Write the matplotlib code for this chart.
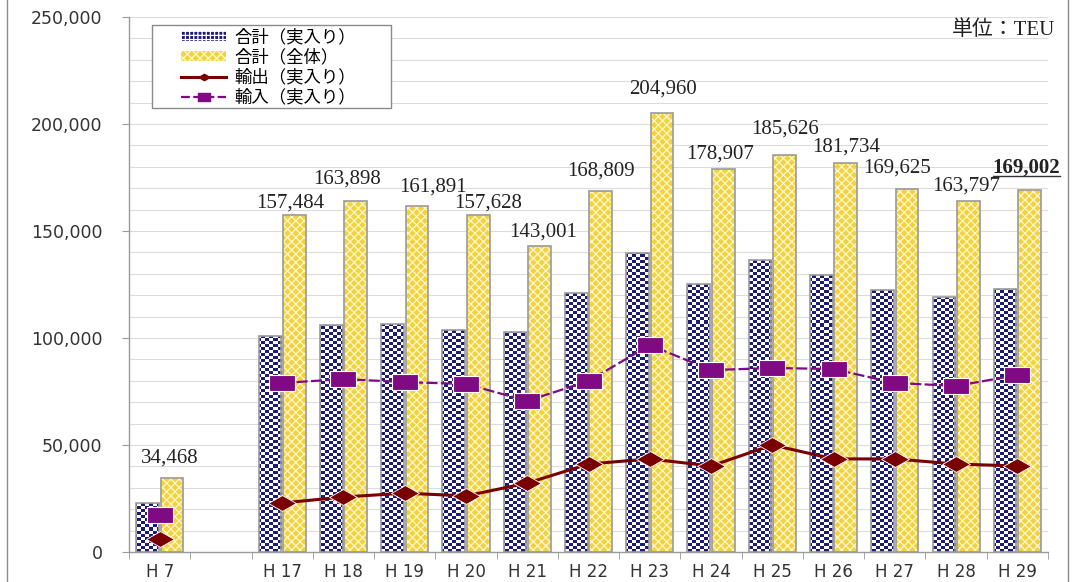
import numpy as np
import matplotlib.pyplot as plt
from matplotlib.patches import Patch, Rectangle
from matplotlib.lines import Line2D
from matplotlib.path import Path
from matplotlib.colors import ListedColormap
from matplotlib.transforms import IdentityTransform

# fiscal years (an empty slot separates H7 from H17)
years = ["H 7", "", "H 17", "H 18", "H 19", "H 20", "H 21", "H 22",
         "H 23", "H 24", "H 25", "H 26", "H 27", "H 28", "H 29"]

nan = np.nan
total_laden = [22900, nan, 101000, 106000, 106500, 103700, 102800, 121000,
               139700, 125200, 136400, 129400, 122400, 119200, 122900]
total_all = [34468, nan, 157484, 163898, 161891, 157628, 143001, 168809,
             204960, 178907, 185626, 181734, 169625, 163797, 169002]
export_laden = [6000, nan, 22900, 25700, 27500, 26200, 32200, 41100,
                43500, 40200, 50000, 43500, 43500, 41100, 40200]
import_laden = [17300, nan, 79000, 80800, 79400, 78500, 70600, 79900,
                96700, 85000, 86000, 85500, 79000, 77600, 82700]

series_names = ["合計（実入り）", "合計（全体）", "輸出（実入り）", "輸入（実入り）"]

# nudges (pixels) for the value labels above the yellow bars
label_dx = [-2, 0, -4, -9, 16, 10, 4, 0, 1, -3, 0, 0, -10, -2, -3]
label_dy = [20, 0, 12, 22, 19, 12, 14, 20, 24, 15, 26, 16, 21, 15, 23]

NAVY = "#1c1c74"
GOLD = "#f1d23f"
MAROON = "#7a0000"
PURPLE = "#7f0a84"
EDGE = "#9a9a9a"

plt.rcParams["hatch.linewidth"] = 0.9

W, H = 1075, 582
fig = plt.figure(figsize=(W / 100, H / 100), dpi=100)
ax = fig.add_axes([129 / W, 1 - 552 / H, (1048 - 129) / W, (552 - 17) / H])

x = np.arange(len(years))
w = 0.37
off = 0.2

# blue bars: grey outline, filled with a small navy/white checkerboard
laden_bars = ax.bar(x - off, total_laden, w, facecolor="none", edgecolor=EDGE, linewidth=1.2, zorder=3)
checker = np.indices((178, 230)).sum(axis=0) % 2
check_cmap = ListedColormap(["white", NAVY])
for bar, v in zip(laden_bars, total_laden):
    if np.isnan(v):
        continue
    im = ax.imshow(checker, cmap=check_cmap, extent=(0, 1, 0, 1), transform=ax.transAxes,
                   interpolation="nearest", aspect="auto", zorder=2)
    im.set_clip_path(bar)

# yellow bars: white lattice hatch, outline drawn on top
ax.bar(x + off, total_all, w, color=GOLD, hatch="xxxx", edgecolor="#fff8d0", linewidth=0, zorder=2)
ax.bar(x + off, total_all, w, fill=False, edgecolor=EDGE, linewidth=1.2, zorder=3)

# wide diamond and wide rectangle markers
diamond = Path([(-1.75, 0), (0, 1), (1.75, 0), (0, -1), (-1.75, 0)],
               [Path.MOVETO, Path.LINETO, Path.LINETO, Path.LINETO, Path.CLOSEPOLY])
rect = Path([(-1.6, -1), (1.6, -1), (1.6, 1), (-1.6, 1), (-1.6, -1)],
            [Path.MOVETO, Path.LINETO, Path.LINETO, Path.LINETO, Path.CLOSEPOLY])

ax.plot(x, export_laden, color=MAROON, lw=2.2, marker=diamond, markersize=20,
        markerfacecolor=MAROON, markeredgecolor="white", markeredgewidth=0.6, zorder=5)
ax.plot(x, import_laden, color=PURPLE, lw=1.6, ls=(0, (5, 1.5)), marker=rect, markersize=19,
        markerfacecolor=PURPLE, markeredgecolor="white", markeredgewidth=0.8, zorder=5)

# value labels for the total bars
last_label = None
for i, v in enumerate(total_all):
    if np.isnan(v):
        continue
    bold = i == len(total_all) - 1
    last_label = ax.annotate(f"{int(v):,}", (x[i] + off, v), xytext=(label_dx[i], label_dy[i]),
                             textcoords="offset pixels", ha="center", va="center",
                             fontsize=15, family="Liberation Serif", color="#222222",
                             fontweight="bold" if bold else "normal", zorder=6)

ax.set_xlim(-0.5, len(years) - 0.5)
ax.set_ylim(0, 250000)

ax.set_yticks(np.arange(0, 250001, 50000))
ax.set_yticks(np.arange(0, 250001, 10000), minor=True)
ax.set_yticklabels([f"{int(t):,}" for t in np.arange(0, 250001, 50000)],
                   fontsize=12.5, family="DejaVu Sans", color="#333333")
ax.yaxis.grid(True, which="both", color="#dcdcdc", lw=0.8, zorder=0)
ax.set_axisbelow(True)
ax.tick_params(axis="y", which="major", length=5, color=EDGE, pad=14)
ax.tick_params(axis="y", which="minor", length=0)

ax.set_xticks(x)
ax.set_xticklabels(years, fontsize=12, family="DejaVu Sans", color="#333333")
ax.set_xticks(np.arange(-0.5, len(years), 1.0), minor=True)
ax.tick_params(axis="x", which="major", length=0, pad=8)
ax.tick_params(axis="x", which="minor", length=5, color=EDGE)

for s in ["top", "right"]:
    ax.spines[s].set_visible(False)
for s in ["left", "bottom"]:
    ax.spines[s].set_color(EDGE)
    ax.spines[s].set_linewidth(1.0)

# legend box drawn separately so the entries can sit inset from its left edge
fig.add_artist(Rectangle((152 / W, 1 - 108 / H), (391 - 152) / W, (108 - 25) / H,
                         transform=fig.transFigure, facecolor="white", edgecolor="#8a8a8a",
                         lw=1.0, zorder=9))
handles = [
    Patch(facecolor=NAVY, hatch="++++", edgecolor="white", linewidth=0),
    Patch(facecolor=GOLD, hatch="xxxx", edgecolor="#fff8d0", linewidth=0),
    Line2D([], [], color=MAROON, lw=2.2, marker=diamond, markersize=8, markerfacecolor=MAROON,
           markeredgecolor=MAROON),
    Line2D([], [], color=PURPLE, lw=1.6, ls=(0, (4, 1.5)), marker=rect, markersize=9,
           markerfacecolor=PURPLE, markeredgecolor=PURPLE),
]
leg = fig.legend(handles, series_names, loc="upper left",
                 bbox_to_anchor=(181 / W, 1 - 28 / H), bbox_transform=fig.transFigure,
                 borderaxespad=0, borderpad=0, frameon=False,
                 handlelength=2.6, handleheight=0.5, handletextpad=0.45, labelspacing=0.12,
                 prop={"family": ["Noto Sans CJK JP", "DejaVu Sans"], "size": 12.5})
leg.set_zorder(10)

fig.text(1055 / W, 1 - 30 / H, "単位：TEU", ha="right", va="center", fontsize=15,
         family=["Liberation Serif", "Noto Sans CJK JP"], color="#222222")

# thin frame lines at the left and right edges of the figure
for px in (7, 1068):
    fig.add_artist(Line2D([px / W, px / W], [0, 1], transform=fig.transFigure,
                          color="#8c8c8c", lw=1.0))

# underline the latest value
fig.canvas.draw()
bb = last_label.get_window_extent()
fig.add_artist(Line2D([bb.x0, bb.x1], [bb.y0 + 1, bb.y0 + 1], transform=IdentityTransform(),
                      color="#333333", lw=1.0))

fig.savefig("out.png", dpi=100)
